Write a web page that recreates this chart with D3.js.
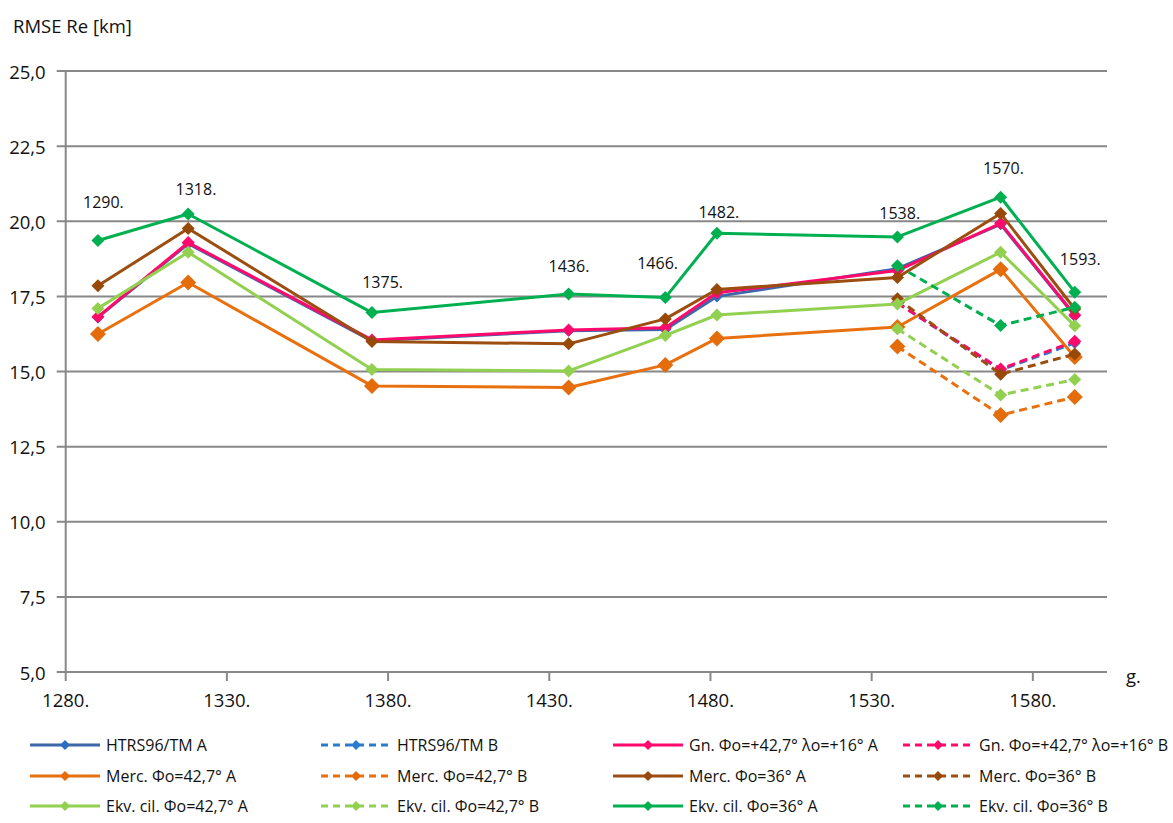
<!DOCTYPE html>
<html>
<head>
<meta charset="utf-8">
<script src="https://cdn.jsdelivr.net/npm/d3@7"></script>
<style>
  html, body { margin: 0; padding: 0; background: #fff; }
  svg { display: block; font-family: 'Open Sans', sans-serif; }
</style>
</head>
<body>
<svg id="chart" width="1173" height="823"></svg>
<script>
// years of the maps (x) — A series have all, B series only the last three
const years = [1290, 1318, 1375, 1436, 1466, 1482, 1538, 1570, 1593];
const yearsB = [1538, 1570, 1593];

// RMSE Re [km]
const htrsA    = [16.80, 19.25, 16.02, 16.36, 16.40, 17.50, 18.42, 19.90, 16.85];
const htrsB    = [17.28, 15.05, 15.95];
const gnA      = [16.82, 19.29, 16.05, 16.38, 16.46, 17.62, 18.36, 19.93, 16.88];
const gnB      = [17.28, 15.08, 16.01];
const merc427A = [16.25, 17.96, 14.52, 14.47, 15.22, 16.10, 16.48, 18.40, 15.48];
const merc427B = [15.83, 13.55, 14.15];
const merc36A  = [17.85, 19.76, 16.00, 15.92, 16.75, 17.73, 18.13, 20.26, 17.08];
const merc36B  = [17.42, 14.91, 15.58];
const ekv427A  = [17.10, 18.97, 15.07, 15.02, 16.20, 16.88, 17.25, 18.97, 16.52];
const ekv427B  = [16.42, 14.22, 14.73];
const ekv36A   = [19.36, 20.24, 16.96, 17.58, 17.46, 19.60, 19.48, 20.80, 17.64];
const ekv36B   = [18.52, 16.53, 17.14];

// year annotations above the points
const yearLabels = ['1290.', '1318.', '1375.', '1436.', '1466.', '1482.', '1538.', '1570.', '1593.'];
const yearLabelX = [1291.7, 1320.4, 1378.3, 1436.1, 1463.6, 1482.6, 1538.7, 1570.9, 1594.7];
const yearLabelY = [20.65, 21.06, 17.99, 18.51, 18.62, 20.32, 20.26, 21.76, 18.74];

// axis ticks
const xTicks = [1280, 1330, 1380, 1430, 1480, 1530, 1580];
const yTicks = [5, 7.5, 10, 12.5, 15, 17.5, 20, 22.5, 25];

const series = [
  { name: 'HTRS96/TM A', x: years, y: htrsA, color: '#3C67A8', mcolor: '#2A6FC0', dash: false, r: 6 },
  { name: 'HTRS96/TM B', x: yearsB, y: htrsB, color: '#2B7BD0', mcolor: '#2B7BD0', dash: true, r: 6 },
  { name: 'Gn. \u03A6o=+42,7\u00B0 \u03BBo=+16\u00B0 A', x: years, y: gnA, color: '#FF0A6C', mcolor: '#FF0A6C', dash: false, r: 6.5 },
  { name: 'Gn. \u03A6o=+42,7\u00B0 \u03BBo=+16\u00B0 B', x: yearsB, y: gnB, color: '#FF0A6C', mcolor: '#FF0A6C', dash: true, r: 6.5 },
  { name: 'Merc. \u03A6o=42,7\u00B0 A', x: years, y: merc427A, color: '#E8700F', mcolor: '#E46C0A', dash: false, r: 8 },
  { name: 'Merc. \u03A6o=42,7\u00B0 B', x: yearsB, y: merc427B, color: '#E8700F', mcolor: '#E46C0A', dash: true, r: 8 },
  { name: 'Merc. \u03A6o=36\u00B0 A', x: years, y: merc36A, color: '#9C4D10', mcolor: '#984807', dash: false, r: 6.5 },
  { name: 'Merc. \u03A6o=36\u00B0 B', x: yearsB, y: merc36B, color: '#9C4D10', mcolor: '#984807', dash: true, r: 6.5 },
  { name: 'Ekv. cil. \u03A6o=42,7\u00B0 A', x: years, y: ekv427A, color: '#92D050', mcolor: '#92D050', dash: false, r: 6.5 },
  { name: 'Ekv. cil. \u03A6o=42,7\u00B0 B', x: yearsB, y: ekv427B, color: '#92D050', mcolor: '#92D050', dash: true, r: 6.5 },
  { name: 'Ekv. cil. \u03A6o=36\u00B0 A', x: years, y: ekv36A, color: '#00B050', mcolor: '#00B050', dash: false, r: 6.5 },
  { name: 'Ekv. cil. \u03A6o=36\u00B0 B', x: yearsB, y: ekv36B, color: '#00B050', mcolor: '#00B050', dash: true, r: 6.5 },
];

const svg = d3.select('#chart');
const plot = { left: 65.7, right: 1107, top: 71, bottom: 672 };

const x = d3.scaleLinear().domain([1280, 1603]).range([plot.left, plot.right]);
const y = d3.scaleLinear().domain([5, 25]).range([plot.bottom, plot.top]);

const gridColor = '#888';
const fmtY = d => d.toFixed(1).replace('.', ',');

// horizontal gridlines (with small outward tick)
svg.append('g').selectAll('line').data(yTicks).join('line')
  .attr('x1', plot.left - 9).attr('x2', plot.right)
  .attr('y1', d => y(d)).attr('y2', d => y(d))
  .attr('stroke', gridColor).attr('stroke-width', 2);

// vertical axis line
svg.append('line')
  .attr('x1', plot.left).attr('x2', plot.left).attr('y1', plot.top).attr('y2', plot.bottom)
  .attr('stroke', gridColor).attr('stroke-width', 2);

// y labels
svg.append('g').selectAll('text').data(yTicks).join('text')
  .attr('x', plot.left - 20).attr('y', d => y(d))
  .attr('text-anchor', 'end').attr('dominant-baseline', 'central')
  .attr('font-size', 18.5).attr('fill', '#111')
  .text(fmtY);

// x ticks + labels
svg.append('g').selectAll('line').data(xTicks).join('line')
  .attr('x1', d => x(d)).attr('x2', d => x(d))
  .attr('y1', plot.bottom).attr('y2', plot.bottom + 9)
  .attr('stroke', gridColor).attr('stroke-width', 2);

svg.append('g').selectAll('text').data(xTicks).join('text')
  .attr('x', d => x(d)).attr('y', plot.bottom + 27)
  .attr('text-anchor', 'middle').attr('dominant-baseline', 'central')
  .attr('font-size', 18.5).attr('fill', '#111')
  .text(d => d + '.');

svg.append('text')
  .attr('x', plot.right + 19).attr('y', plot.bottom + 3)
  .attr('dominant-baseline', 'central')
  .attr('font-size', 18.5).attr('fill', '#111')
  .text('g.');

svg.append('text')
  .attr('x', 13).attr('y', 25)
  .attr('dominant-baseline', 'central')
  .attr('font-size', 18.5).attr('fill', '#111')
  .text('RMSE Re [km]');

// diamond marker path
const diamond = r => `M0,${-r}L${r},0L0,${r}L${-r},0Z`;

const line = d3.line().x(d => x(d[0])).y(d => y(d[1]));

// series, drawn in order so later ones sit on top
series.forEach(s => {
  const pts = s.x.map((xv, i) => [xv, s.y[i]]);
  const g = svg.append('g');
  g.append('path')
    .attr('d', line(pts))
    .attr('fill', 'none')
    .attr('stroke', s.color)
    .attr('stroke-width', 3)
    .attr('stroke-linejoin', 'round')
    .attr('stroke-dasharray', s.dash ? '8,5' : null);
  g.selectAll('path.m').data(pts).join('path')
    .attr('class', 'm')
    .attr('transform', d => `translate(${x(d[0])},${y(d[1])})`)
    .attr('d', diamond(s.r))
    .attr('fill', s.mcolor);
});

// year annotations
svg.append('g').selectAll('text').data(yearLabels).join('text')
  .attr('x', (d, i) => x(yearLabelX[i]))
  .attr('y', (d, i) => y(yearLabelY[i]))
  .attr('text-anchor', 'middle').attr('dominant-baseline', 'central')
  .attr('font-size', 16).attr('fill', '#111')
  .text(d => d);

// legend: 4 columns x 3 rows
const legX = [30, 321, 613, 903];
const legY = [745, 776, 806];
const lg = svg.append('g');
series.forEach((s, i) => {
  const cx = legX[i % 4], cy = legY[Math.floor(i / 4)];
  lg.append('line')
    .attr('x1', cx).attr('x2', cx + 70).attr('y1', cy).attr('y2', cy)
    .attr('stroke', s.color).attr('stroke-width', 3)
    .attr('stroke-dasharray', s.dash ? '7,5' : null);
  lg.append('path')
    .attr('transform', `translate(${cx + 35},${cy})`)
    .attr('d', diamond(5))
    .attr('fill', s.mcolor);
  lg.append('text')
    .attr('x', cx + 76).attr('y', cy)
    .attr('dominant-baseline', 'central')
    .attr('font-size', 16).attr('fill', '#111')
    .text(s.name);
});
</script>
</body>
</html>
